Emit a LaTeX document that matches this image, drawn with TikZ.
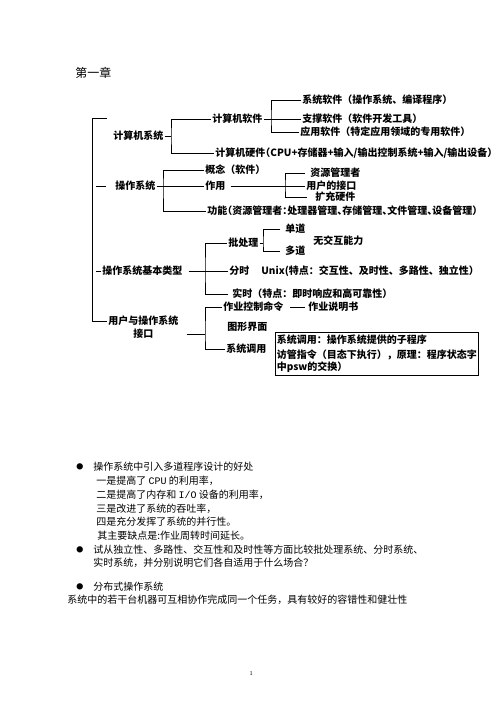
\documentclass[tikz,border=0pt]{standalone}
\usepackage{fontspec}
\usepackage{tikz}
\newfontfamily\cjk{Noto Sans CJK SC}
\newfontfamily\cjkhalt[RawFeature=+halt]{Noto Sans CJK SC}
\newfontfamily\monof{Liberation Mono}

\begin{document}
\begin{tikzpicture}[x=1pt, y=-1pt, line width=0.7pt,
    lbl/.style={anchor=west, inner sep=1pt, font=\cjk\bfseries\fontsize{10}{12}\selectfont},
    lblh/.style={lbl, font=\cjkhalt\bfseries\fontsize{10}{12}\selectfont},
    txt/.style={anchor=west, inner sep=0pt, font=\cjk\fontsize{10}{12}\selectfont},
    bul/.style={anchor=west, inner sep=0pt, font=\cjk\fontsize{7}{8}\selectfont}]
    \useasboundingbox (0,0) rectangle (496,702);
    \node[txt, font=\cjk\fontsize{12}{14}\selectfont] (chap) at (75,73) {第一章};

    % computer system
    \node[lbl] (jsjxt) at (112,136) {计算机系统};
    \node[lbl] (jsjrj) at (211,119) {计算机软件};
    \node[lbl] (xtrj) at (301,100) {系统软件（操作系统、编译程序）};
    \node[lbl] (zcrj) at (301,119) {支撑软件（软件开发工具）};
    \node[lbl] (yyrj) at (299,132) {应用软件（特定应用领域的专用软件）};
    \node[lblh] (jsjyj) at (214,153) {计算机硬件（CPU+存储器+输入/输出控制系统+输入/输出设备）};

    % operating system
    \node[lbl] (czxt) at (114,186) {操作系统};
    \node[lbl] (gn) at (204,170) {概念（软件）};
    \node[lbl] (zy) at (204,186) {作用};
    \node[lblh] (gnn) at (206,211) {功能（资源管理者：处理器管理、存储管理、文件管理、设备管理）};
    \node[lbl] (zygl) at (309,173) {资源管理者};
    \node[lbl] (yhjk) at (305,186) {用户的接口};
    \node[lbl] (kcyj) at (314,197) {扩充硬件};

    % basic types
    \node[lbl] (lx) at (101,271) {操作系统基本类型};
    \node[lbl] (pcl) at (227,243) {批处理};
    \node[lbl] (dd1) at (284,229) {单道};
    \node[lbl] (dd2) at (284,251) {多道};
    \node[lbl] (wjh) at (312,241) {无交互能力};
    \node[lbl] (fs) at (228,271) {分时};
    \node[lbl] (unix) at (260,271) {Unix(特点：交互性、及时性、多路性、独立性）};
    \node[lbl] (ss) at (231,294) {实时（特点：即时响应和高可靠性）};

    % user interface
    \node[lbl] (yh) at (107,321) {用户与操作系统};
    \node[lbl, anchor=north] (jk) at (yh.south) {接口};
    \node[lbl] (zykz) at (222,307) {作业控制命令};
    \node[lbl] (zysm) at (307,307) {作业说明书};
    \node[lbl] (txjm) at (226,327) {图形界面};
    \node[lbl] (xtdy) at (225,349) {系统调用};
    \node[lbl, draw, anchor=north west, text width=200pt, inner sep=1.5pt,
          minimum height=43pt, align=left] (fbox) at (275,332)
          {系统调用：操作系统提供的子程序\\[3pt]访管指令（目态下执行），原理：程序状态字\\中psw的交换）};

    % brackets
    \coordinate (tl) at (107,118);
    \coordinate (sp) at (92,118);
    \draw (tl) -- (sp) |- (yh.west);
    \coordinate (c1) at (171,136);
    \draw (jsjxt.east) -- (c1);
    \draw (jsjrj.west) -| (c1) |- (jsjyj.west);
    \coordinate (c2) at (271,119);
    \draw (jsjrj.east) -- (zcrj.west);
    \draw (xtrj.west) -| (c2) |- (yyrj.west);
    \draw ([xshift=-8pt]czxt.west) -- ++(-10,0);
    \coordinate (c3) at (163,186);
    \draw (czxt.east) -- (zy.west);
    \draw (gn.west) -| (c3) |- (gnn.west);
    \coordinate (c4) at (285,186);
    \draw (zy.east) ++(4,0) -- (yhjk.west);
    \draw ([xshift=-4pt]zygl.west) -| (c4) |- ([xshift=-7pt]kcyj.west);
    \draw (lx.west) -- ++(-5,0);
    \coordinate (c5) at (205,271);
    \draw ([xshift=5pt]lx.east) -- (fs.west);
    \draw (pcl.west) -| (c5) |- ([xshift=-3pt]ss.west);
    \coordinate (c6) at (263,243);
    \draw (pcl.east) -- (c6);
    \draw ([xshift=-4pt]dd1.west) -| (c6) |- ([xshift=-4pt]dd2.west);
    \coordinate (c7) at (205,334);
    \draw ([xshift=7pt]yh.east |- c7) -- (c7);
    \draw (zykz.west) -| (c7) |- (xtdy.west);
    \draw ([xshift=5pt]zykz.east) -- ([xshift=-2pt]zysm.west);

    % notes
    \node[bul] (b1) at (76,467) {●};
    \node[txt] (n1) at (93,467) {操作系统中引入多道程序设计的好处};
    \node[txt] (n2) at (96,481) {一是提高了 {\monof CPU} 的利用率，};
    \node[txt] (n3) at (96,495) {二是提高了内存和 {\monof I/O} 设备的利用率，};
    \node[txt] (n4) at (96,509) {三是改进了系统的吞吐率，};
    \node[txt] (n5) at (96,522) {四是充分发挥了系统的并行性。};
    \node[txt] (n6) at (97,536) {其主要缺点是:作业周转时间延长。};
    \node[bul] (b2) at (76,550) {●};
    \node[txt] (n7) at (93,550) {试从独立性、多路性、交互性和及时性等方面比较批处理系统、分时系统、};
    \node[txt] (n8) at (93,563) {实时系统，并分别说明它们各自适用于什么场合？};
    \node[bul] (b3) at (76,587) {●};
    \node[txt] (n9) at (93,587) {分布式操作系统};
    \node[txt] (n10) at (67,600) {系统中的若干台机器可互相协作完成同一个任务，具有较好的容错性和健壮性};
    \node[txt, font=\fontsize{6}{7}\selectfont] (pg) at (249,673) {1};
\end{tikzpicture}
\end{document}
